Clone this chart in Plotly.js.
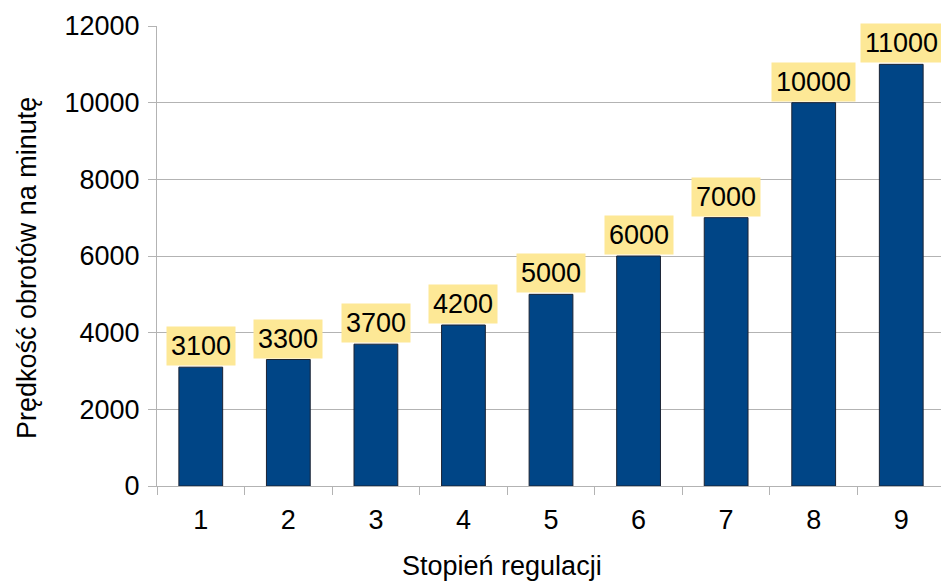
<!DOCTYPE html>
<html>
<head>
<meta charset="utf-8">
<script src="https://cdn.plot.ly/plotly-3.0.1.min.js"></script>
<style>html,body{margin:0;padding:0;background:#fff;}#chart{width:941px;height:581px;}</style>
</head>
<body>
<div id="chart"></div>
<script>
const categories = ["1", "2", "3", "4", "5", "6", "7", "8", "9"];
const speeds = [3100, 3300, 3700, 4200, 5000, 6000, 7000, 10000, 11000];
const yTickValues = [0, 2000, 4000, 6000, 8000, 10000, 12000];
const xTitle = "Stopień regulacji";
const yTitle = "Prędkość obrotów na minutę";

const FONT = "Liberation Sans, Arial, sans-serif";
const FS = 27;

const trace = {
  type: "bar",
  x: categories,
  y: speeds,
  marker: { color: "#004586", line: { color: "#1b2333", width: 1 } },
  hoverinfo: "skip"
};

const annotations = speeds.map((v, i) => ({
  x: i, y: v, xref: "x", yref: "y",
  text: String(v),
  showarrow: false,
  yanchor: "bottom",
  yshift: 1,
  bgcolor: "#fde896",
  borderpad: 4,
  font: { family: FONT, size: FS, color: "#000" }
}));

// axis titles, placed like the reference (not centred on the plot area)
annotations.push({
  xref: "paper", yref: "paper", x: 0.44, y: 0,
  xanchor: "center", yanchor: "middle", yshift: -80,
  text: xTitle, showarrow: false,
  font: { family: FONT, size: FS, color: "#000" }
});
annotations.push({
  xref: "paper", yref: "paper", x: 0, y: 0.474,
  xanchor: "center", yanchor: "middle", xshift: -130,
  textangle: -90,
  text: yTitle, showarrow: false,
  font: { family: FONT, size: FS, color: "#000" }
});

const layout = {
  width: 941, height: 581,
  margin: { l: 157, r: 0, t: 26, b: 95 },
  paper_bgcolor: "#fff", plot_bgcolor: "#fff",
  showlegend: false,
  bargap: 0.5,
  font: { family: FONT, size: FS, color: "#000" },
  xaxis: {
    type: "category",
    range: [-0.5, 8.454],
    tickson: "boundaries",
    ticks: "outside", ticklen: 8, tickcolor: "#b3b3b3", tickwidth: 1,
    showgrid: false,
    showline: true, linecolor: "#b3b3b3", linewidth: 1,
    tickfont: { family: FONT, size: FS, color: "#000" },
    ticklabelstandoff: 10,
    automargin: false,
    fixedrange: true
  },
  yaxis: {
    range: [0, 12000],
    tickvals: yTickValues,
    tickformat: "d",
    ticks: "outside", ticklen: 8, tickcolor: "#b3b3b3", tickwidth: 1,
    showgrid: true, gridcolor: "#b3b3b3", gridwidth: 1,
    zeroline: false,
    showline: true, linecolor: "#b3b3b3", linewidth: 1,
    tickfont: { family: FONT, size: FS, color: "#000" },
    ticklabelstandoff: 3,
    automargin: false,
    fixedrange: true
  },
  annotations: annotations
};

Plotly.newPlot("chart", [trace], layout, { staticPlot: true, displayModeBar: false });
</script>
</body>
</html>
